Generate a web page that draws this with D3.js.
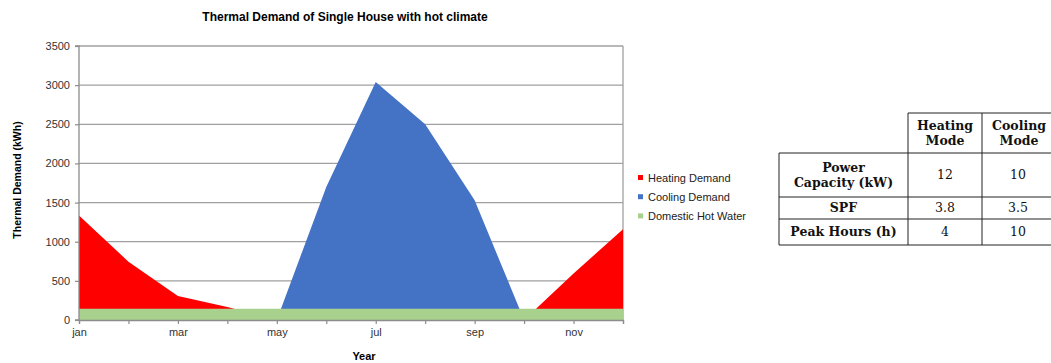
<!DOCTYPE html>
<html>
<head>
<meta charset="utf-8">
<script src="https://cdn.jsdelivr.net/npm/d3@7"></script>
<style>
  html, body { margin: 0; padding: 0; background: #fff; }
  svg { display: block; }
</style>
</head>
<body>
<svg id="chart" width="1051" height="363"></svg>
<script>
// Monthly thermal demand (kWh)
const months = ["jan","feb","mar","apr","may","jun","jul","aug","sep","oct","nov","dec"];
const heatingDemand = [1335, 745, 307, 165, 0, 0, 0, 0, 0, 0, 595, 1158];
const coolingDemand = [0, 0, 0, 0, 0, 1700, 3040, 2500, 1530, 0, 0, 0];
const hotWater = [145, 145, 145, 145, 145, 145, 145, 145, 145, 145, 145, 145];
const yTicks = [0, 500, 1000, 1500, 2000, 2500, 3000, 3500];

const seriesNames = ["Heating Demand", "Cooling Demand", "Domestic Hot Water"];
const seriesColors = ["#ff0000", "#4472c4", "#a9d18e"];

// Heat pump summary table
const columnHeaders = [["Heating", "Mode"], ["Cooling", "Mode"]];
const rowHeaders = [["Power", "Capacity (kW)"], ["SPF"], ["Peak Hours (h)"]];
const heatingMode = ["12", "3.8", "4"];
const coolingMode = ["10", "3.5", "10"];

const svg = d3.select("#chart");
const plot = { left: 79, right: 623, top: 46, bottom: 320 };

const x = d3.scalePoint().domain(months).range([plot.left, plot.right]);
const y = d3.scaleLinear().domain([0, 3500]).range([plot.bottom, plot.top]);

// Gridlines
svg.append("g")
  .selectAll("line")
  .data(yTicks.filter(d => d > 0))
  .join("line")
  .attr("x1", plot.left).attr("x2", plot.right)
  .attr("y1", d => y(d)).attr("y2", d => y(d))
  .attr("stroke", "#a0a0a0").attr("stroke-width", 1.3);

// Right border of the plot area
svg.append("line")
  .attr("x1", plot.right).attr("x2", plot.right)
  .attr("y1", plot.top).attr("y2", plot.bottom)
  .attr("stroke", "#a0a0a0").attr("stroke-width", 1.3);

// Overlapping areas, drawn in order
const areaOf = values => d3.area()
  .x((d, i) => x(months[i]))
  .y0(y(0))
  .y1(d => y(d))(values);

[heatingDemand, coolingDemand, hotWater].forEach((vals, k) => {
  svg.append("path").attr("d", areaOf(vals)).attr("fill", seriesColors[k]);
});

// Axes
const yAxis = d3.axisLeft(y).tickValues(yTicks).tickFormat(d3.format("d"))
  .tickSize(4).tickPadding(5);
const gy = svg.append("g").attr("transform", `translate(${plot.left},0)`).call(yAxis);
const xAxis = d3.axisBottom(x).tickSize(4).tickPadding(4)
  .tickFormat((d, i) => i % 2 === 0 ? d : "");
const gx = svg.append("g").attr("transform", `translate(0,${plot.bottom})`).call(xAxis);

[gx, gy].forEach(g => {
  g.select(".domain").attr("stroke", "#8c8c8c").attr("stroke-width", 1.3);
  g.selectAll(".tick line").attr("stroke", "#8c8c8c").attr("stroke-width", 1.2);
  g.selectAll("text")
    .attr("font-family", "Liberation Sans, Arial, sans-serif")
    .attr("font-size", 11).attr("fill", "#333");
});
gy.select(".domain").attr("d", `M-4,${plot.top}H0V${plot.bottom}H-4`);

// Titles
svg.append("text")
  .attr("x", 345).attr("y", 21)
  .attr("text-anchor", "middle")
  .attr("font-family", "Liberation Sans, Arial, sans-serif")
  .attr("font-size", 12).attr("font-weight", "bold")
  .text("Thermal Demand of Single House with hot climate");

svg.append("text")
  .attr("transform", "translate(21,180) rotate(-90)")
  .attr("text-anchor", "middle")
  .attr("font-family", "Liberation Sans, Arial, sans-serif")
  .attr("font-size", 10.5).attr("font-weight", "bold")
  .text("Thermal Demand (kWh)");

svg.append("text")
  .attr("x", 364).attr("y", 360)
  .attr("text-anchor", "middle")
  .attr("font-family", "Liberation Sans, Arial, sans-serif")
  .attr("font-size", 11).attr("font-weight", "bold")
  .text("Year");

// Legend
const legend = svg.append("g").attr("transform", "translate(638,178)");
seriesNames.forEach((name, i) => {
  const row = legend.append("g").attr("transform", `translate(0,${i * 19.2})`);
  row.append("rect").attr("x", 0).attr("y", -3).attr("width", 5).attr("height", 5)
    .attr("fill", seriesColors[i]);
  row.append("text").attr("x", 10).attr("y", 4)
    .attr("font-family", "Liberation Sans, Arial, sans-serif")
    .attr("font-size", 11).attr("fill", "#222")
    .text(name);
});

// Table
const colX = [779, 908, 982, 1056];
const rowY = [113, 153, 197, 219, 245];
const tbl = svg.append("g");
const serif = "DejaVu Serif, Liberation Serif, serif";
const lineColor = "#222";

// horizontal rules
tbl.append("line").attr("x1", colX[1]).attr("x2", colX[3])
  .attr("y1", rowY[0]).attr("y2", rowY[0]).attr("stroke", lineColor);
rowY.slice(1).forEach(yy => {
  tbl.append("line").attr("x1", colX[0]).attr("x2", colX[3])
    .attr("y1", yy).attr("y2", yy).attr("stroke", lineColor);
});
// vertical rules
tbl.append("line").attr("x1", colX[0]).attr("x2", colX[0])
  .attr("y1", rowY[1]).attr("y2", rowY[4]).attr("stroke", lineColor);
colX.slice(1).forEach(xx => {
  tbl.append("line").attr("x1", xx).attr("x2", xx)
    .attr("y1", rowY[0]).attr("y2", rowY[4]).attr("stroke", lineColor);
});

function cellText(lines, cx, y0, y1, bold) {
  const mid = (y0 + y1) / 2;
  const lh = 15.5;
  lines.forEach((t, i) => {
    tbl.append("text")
      .attr("x", cx)
      .attr("y", mid + (i - (lines.length - 1) / 2) * lh)
      .attr("dy", "0.35em")
      .attr("text-anchor", "middle")
      .attr("font-family", serif)
      .attr("font-size", 12.5)
      .attr("font-weight", bold ? "bold" : "normal")
      .attr("fill", "#111")
      .text(t);
  });
}

columnHeaders.forEach((lines, j) => {
  cellText(lines, (colX[j + 1] + colX[j + 2]) / 2, rowY[0], rowY[1], true);
});
rowHeaders.forEach((lines, i) => {
  cellText(lines, (colX[0] + colX[1]) / 2, rowY[i + 1], rowY[i + 2], true);
  cellText([heatingMode[i]], (colX[1] + colX[2]) / 2, rowY[i + 1], rowY[i + 2], false);
  cellText([coolingMode[i]], (colX[2] + colX[3]) / 2 - 1, rowY[i + 1], rowY[i + 2], false);
});
</script>
</body>
</html>
